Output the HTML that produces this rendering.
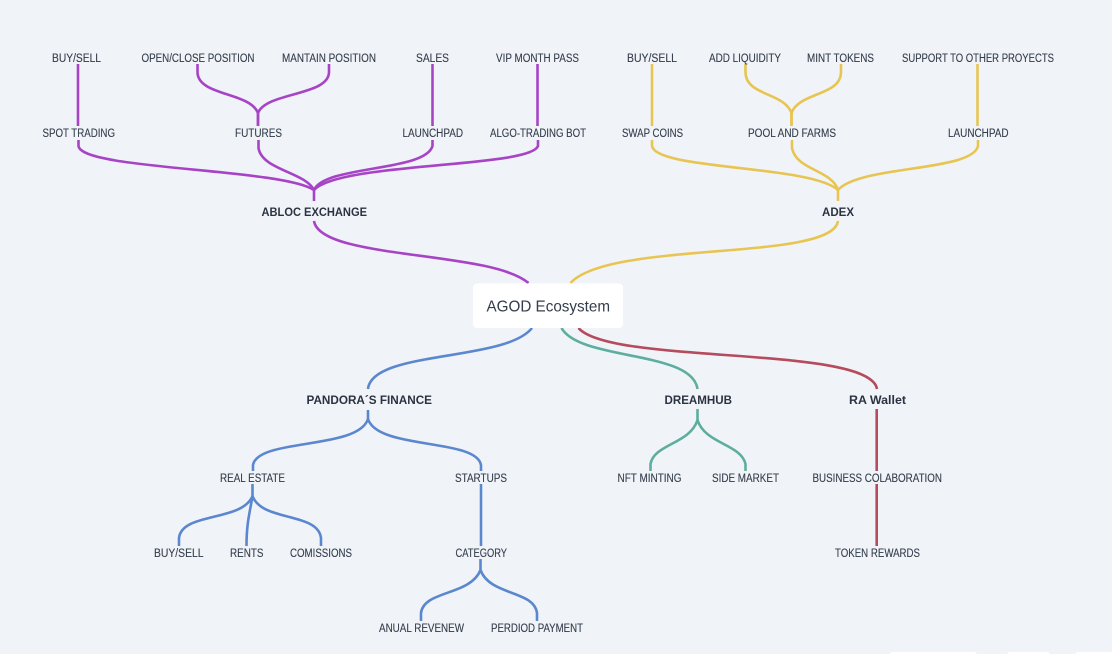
<!DOCTYPE html>
<html>
<head>
<meta charset="utf-8">
<style>
html,body{margin:0;padding:0;background:#f0f4f8;width:1112px;height:654px;overflow:hidden}
svg{display:block}
text{font-family:"Liberation Sans",sans-serif;fill:#343d4b;stroke:#343d4b;stroke-width:.12;font-size:11.5px}
text.b{font-weight:bold;font-size:12px;fill:#2b3340;stroke:none}
path{fill:none;stroke-width:2.6;stroke-linecap:butt}
.p path{stroke:#a744c6}
.y path{stroke:#e8c552}
.l path{stroke:#5b87cf}
.g path{stroke:#5dae9e}
.r path{stroke:#b54b5c}
</style>
</head>
<body>
<svg width="1112" height="654" viewBox="0 0 1112 654" xmlns="http://www.w3.org/2000/svg">
<rect width="1112" height="654" fill="#f0f4f8"/>

<g class="p">
<path d="M78 64V126"/>
<path d="M197.5 64V72C197.5 96 250 92 258 113V126"/>
<path d="M329 64V72C329 96 266 92 258 113V126"/>
<path d="M432.5 64V126"/>
<path d="M537.5 64V126"/>
<path d="M78.5 140V146C82 170 280 168 314 190V201"/>
<path d="M258.5 140V148C262 170 305 172 314 190"/>
<path d="M432.5 140V146C425 172 325 165 314 190"/>
<path d="M538 140V146C530 168 340 162 314 190"/>
<path d="M314 221C320 260 490 250 528.5 283"/>
</g>

<g class="y">
<path d="M652 64V126"/>
<path d="M745.5 64V72C745.5 96 784 92 791.5 113V126"/>
<path d="M841 64V72C841 96 799 92 791.5 113V126"/>
<path d="M977.5 64V126"/>
<path d="M652 140V146C656 170 810 165 838 190V201"/>
<path d="M792 140V148C796 170 832 170 838 190"/>
<path d="M978 140V146C972 172 860 165 838 190"/>
<path d="M838 221C832 262 610 240 570.5 283"/>
</g>

<g class="l">
<path d="M532 328C505 362 372 350 368 389"/>
<path d="M368 410V419C358 450 258 438 253 465V471"/>
<path d="M368 419C378 450 476 438 481 465V471"/>
<path d="M252.5 484V496C242 522 182 512 179 538V546"/>
<path d="M252.5 496C250 512 246.5 522 246.5 546"/>
<path d="M252.5 496C262 522 318 512 321 538V546"/>
<path d="M481 484V546"/>
<path d="M480.5 559V570C470 596 424 590 421 613V621"/>
<path d="M480.5 570C490 596 534 590 537 613V621"/>
</g>

<g class="g">
<path d="M561.5 328C580 361 692 350 697.5 389"/>
<path d="M697.5 409V420C690 444 654 444 650.5 464V471"/>
<path d="M697.5 420C705 444 741 444 745.5 464V471"/>
</g>

<g class="r">
<path d="M578.5 328C610 365 870 345 877 389"/>
<path d="M876.7 409V471"/>
<path d="M876.7 484V546"/>
</g>

<!-- top labels -->
<text x="52" y="62" textLength="49" lengthAdjust="spacingAndGlyphs">BUY/SELL</text>
<text x="141.5" y="62" textLength="113" lengthAdjust="spacingAndGlyphs">OPEN/CLOSE POSITION</text>
<text x="282" y="62" textLength="94" lengthAdjust="spacingAndGlyphs">MANTAIN POSITION</text>
<text x="416" y="62" textLength="33" lengthAdjust="spacingAndGlyphs">SALES</text>
<text x="496" y="62" textLength="83" lengthAdjust="spacingAndGlyphs">VIP MONTH PASS</text>
<text x="627" y="62" textLength="50" lengthAdjust="spacingAndGlyphs">BUY/SELL</text>
<text x="709" y="62" textLength="72" lengthAdjust="spacingAndGlyphs">ADD LIQUIDITY</text>
<text x="807" y="62" textLength="67" lengthAdjust="spacingAndGlyphs">MINT TOKENS</text>
<text x="902" y="62" textLength="152" lengthAdjust="spacingAndGlyphs">SUPPORT TO OTHER PROYECTS</text>

<text x="42.5" y="137" textLength="72.5" lengthAdjust="spacingAndGlyphs">SPOT TRADING</text>
<text x="235" y="137" textLength="47" lengthAdjust="spacingAndGlyphs">FUTURES</text>
<text x="402.5" y="137" textLength="60.5" lengthAdjust="spacingAndGlyphs">LAUNCHPAD</text>
<text x="490" y="137" textLength="96" lengthAdjust="spacingAndGlyphs">ALGO-TRADING BOT</text>
<text x="622" y="137" textLength="61" lengthAdjust="spacingAndGlyphs">SWAP COINS</text>
<text x="748" y="137" textLength="88" lengthAdjust="spacingAndGlyphs">POOL AND FARMS</text>
<text x="948" y="137" textLength="60.5" lengthAdjust="spacingAndGlyphs">LAUNCHPAD</text>

<text class="b" x="261.5" y="216" textLength="105.5" lengthAdjust="spacingAndGlyphs">ABLOC EXCHANGE</text>
<text class="b" x="822" y="216" textLength="32" lengthAdjust="spacingAndGlyphs">ADEX</text>

<!-- center -->
<rect x="473" y="283.5" width="150" height="44.5" rx="4" fill="#ffffff"/>
<text x="486.5" y="311.5" textLength="123.5" lengthAdjust="spacingAndGlyphs" style="font-size:16px;stroke:none">AGOD Ecosystem</text>

<!-- lower labels -->
<text class="b" x="306.5" y="404" textLength="125.5" lengthAdjust="spacingAndGlyphs">PANDORA´S FINANCE</text>
<text class="b" x="664.5" y="404" textLength="67.5" lengthAdjust="spacingAndGlyphs">DREAMHUB</text>
<text class="b" x="849" y="404" textLength="57" lengthAdjust="spacingAndGlyphs">RA Wallet</text>

<text x="220" y="482" textLength="65" lengthAdjust="spacingAndGlyphs">REAL ESTATE</text>
<text x="455" y="482" textLength="52" lengthAdjust="spacingAndGlyphs">STARTUPS</text>
<text x="617.5" y="482" textLength="64" lengthAdjust="spacingAndGlyphs">NFT MINTING</text>
<text x="712" y="482" textLength="67" lengthAdjust="spacingAndGlyphs">SIDE MARKET</text>
<text x="812.5" y="482" textLength="129.5" lengthAdjust="spacingAndGlyphs">BUSINESS COLABORATION</text>

<text x="154" y="557" textLength="49.5" lengthAdjust="spacingAndGlyphs">BUY/SELL</text>
<text x="230" y="557" textLength="33.5" lengthAdjust="spacingAndGlyphs">RENTS</text>
<text x="290" y="557" textLength="62" lengthAdjust="spacingAndGlyphs">COMISSIONS</text>
<text x="455.5" y="557" textLength="51.5" lengthAdjust="spacingAndGlyphs">CATEGORY</text>
<text x="835" y="557" textLength="85" lengthAdjust="spacingAndGlyphs">TOKEN REWARDS</text>

<text x="379" y="632" textLength="85" lengthAdjust="spacingAndGlyphs">ANUAL REVENEW</text>
<text x="491" y="632" textLength="92" lengthAdjust="spacingAndGlyphs">PERDIOD PAYMENT</text>

<!-- bottom-edge white controls -->
<rect x="890" y="652" width="87" height="6" rx="3" fill="#ffffff"/>
<rect x="1007" y="652" width="43" height="6" rx="3" fill="#ffffff"/>
<rect x="1075" y="652" width="45" height="6" rx="3" fill="#ffffff"/>
</svg>
</body>
</html>
